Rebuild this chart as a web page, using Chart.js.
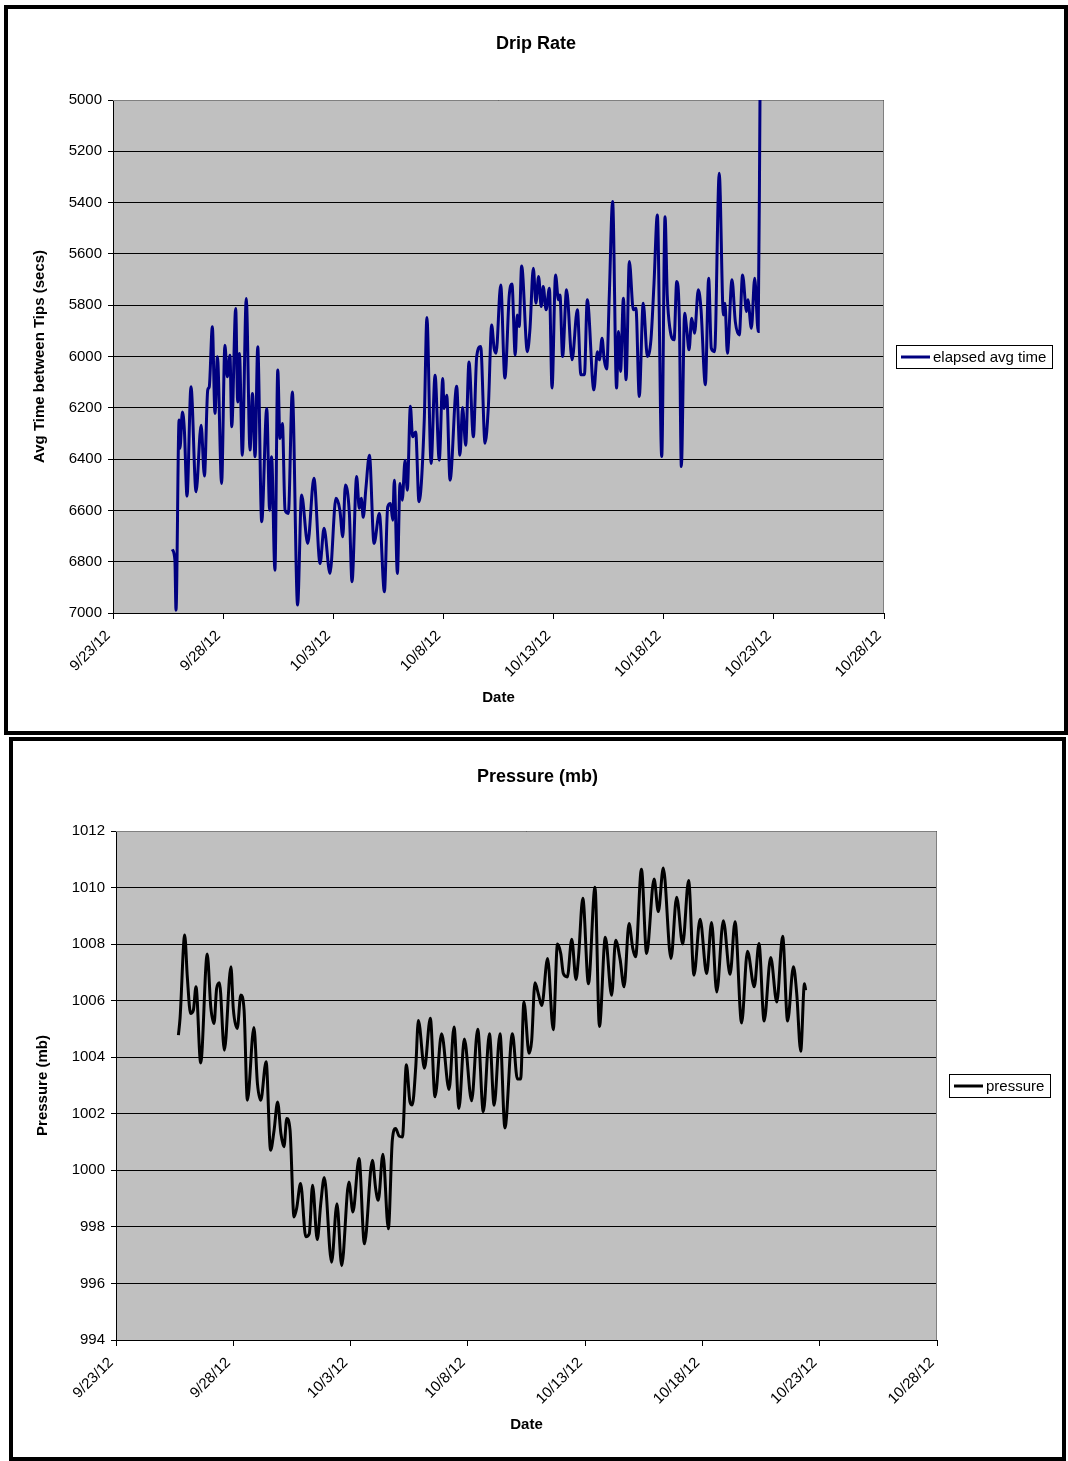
<!DOCTYPE html>
<html>
<head>
<meta charset="utf-8">
<script src="https://cdn.jsdelivr.net/npm/chart.js@4.4.1/dist/chart.umd.min.js"></script>
<style>
  body { margin: 0; background: #fff; width: 1068px; height: 1461px; position: relative; overflow: hidden; }
  .box { position: absolute; border: 4px solid #000; background: #fff; }
  #dripBox { left: 4px; top: 5px; width: 1056px; height: 722px; }
  #pressBox { left: 9px; top: 737px; width: 1049px; height: 716px; }
  canvas { display: block; }
</style>
</head>
<body>
<div class="box" id="dripBox"><canvas id="dripChart" width="1056" height="722"></canvas></div>
<div class="box" id="pressBox"><canvas id="pressChart" width="1049" height="716"></canvas></div>
<script>
// x values are days since 9/23/12
const tickLabels = ['9/23/12', '9/28/12', '10/3/12', '10/8/12', '10/13/12', '10/18/12', '10/23/12', '10/28/12'];

const dripDays = [
  2.69, 2.81, 2.86, 3.00, 3.04, 3.15, 3.24, 3.36, 3.54, 3.77, 4.00, 4.15, 4.30, 4.37, 4.51, 4.63, 4.74, 4.93,
  5.08, 5.19, 5.31, 5.39, 5.57, 5.66, 5.74, 5.87, 6.05, 6.22, 6.33, 6.45, 6.57, 6.75, 6.98, 7.11, 7.20, 7.35,
  7.48, 7.58, 7.69, 7.81, 7.96, 8.14, 8.38, 8.56, 8.84, 9.12, 9.40,
  9.58, 9.85, 10.12, 10.30, 10.43, 10.55, 10.73, 10.85, 11.06, 11.18, 11.27, 11.36, 11.48, 11.64, 11.85, 12.09,
  12.32, 12.47, 12.60, 12.70, 12.77, 12.91, 13.03, 13.13, 13.26, 13.36, 13.50, 13.60, 13.74, 13.89, 14.13, 14.25,
  14.44, 14.62, 14.81, 14.97, 15.03, 15.15, 15.30, 15.60, 15.75, 15.87, 16.01, 16.16, 16.36, 16.51,
  16.69, 16.89, 17.04, 17.19, 17.30, 17.39, 17.60, 17.79, 17.99, 18.11, 18.26, 18.35, 18.44, 18.55, 18.81, 18.93,
  19.08, 19.20, 19.32, 19.44, 19.53, 19.66, 19.81, 19.93, 20.09, 20.22, 20.29, 20.41, 20.59, 20.84, 21.08, 21.24,
  21.40, 21.53, 21.83, 21.99, 22.08, 22.20, 22.30, 22.41, 22.53, 22.68, 22.86, 22.95, 23.04, 23.17, 23.29, 23.44,
  23.62, 23.74, 23.89, 24.07, 24.26, 24.42, 24.56, 24.71, 24.91, 25.06, 25.16, 25.28, 25.47, 25.59, 25.71, 25.80,
  25.95, 26.04, 26.15, 26.27, 26.40, 26.57, 26.69, 26.89, 27.04, 27.16, 27.31, 27.52, 27.71, 27.78, 27.89, 28.10,
  28.25, 28.43, 28.58, 28.76, 28.82, 28.98, 29.13, 29.29, 29.37
];
const dripSecs = [
  6752, 6794, 6989, 6248, 6358, 6216, 6287, 6544, 6118, 6527, 6268, 6466, 6131, 6118, 5884, 6222, 6001, 6495,
  5956, 6079, 5995, 6274, 5813, 6177, 5988, 6385, 5774, 6365, 6144, 6391, 5962, 6644, 6203, 6599, 6391, 6833,
  6053, 6320, 6261, 6599, 6612, 6138, 6969, 6540, 6729, 6475, 6807,
  6670, 6846, 6553, 6599, 6703, 6501, 6612, 6878, 6468, 6592, 6553, 6627, 6514, 6385, 6729, 6612,
  6917, 6586, 6573, 6638, 6482, 6846, 6495, 6560, 6404, 6521, 6194, 6313, 6294, 6566, 6248, 5848,
  6417, 6073, 6404, 6086, 6203, 6151, 6482, 6116, 6385, 6199, 6346, 6021, 6313, 6001,
  5961, 6338, 6195, 5877, 5968, 5987, 5721, 6084, 5760, 5717, 5994, 5838, 5883, 5647, 5981, 5890,
  5656, 5792, 5688, 5805, 5727, 5818, 5734, 6123, 5682, 5779, 5760, 6000, 5740, 6013, 5818, 6071,
  6071, 5779, 6130, 5981, 6013, 5929, 6013, 6049, 5760, 5396, 6123, 5903, 6058, 5773, 6091, 5630,
  5818, 5812, 6156, 5792, 6000, 5935, 5714, 5448, 6390, 5455, 5760, 5890, 5935, 5708, 5857, 6429,
  5831, 5890, 5974, 5851, 5909, 5740, 5812, 6110, 5695, 5968, 5981, 5286, 5838, 5792, 5987, 5701,
  5864, 5916, 5682, 5825, 5779, 5890, 5695, 5903, 5000
];

const pressDays = [
  2.66, 2.73, 2.93, 3.04, 3.18, 3.30, 3.41, 3.61, 3.89, 4.04, 4.18, 4.29, 4.41, 4.62, 4.90, 5.00, 5.17, 5.32,
  5.46, 5.60, 5.88, 6.03, 6.17, 6.40, 6.59, 6.74, 6.89, 7.03, 7.16, 7.28, 7.42, 7.59, 7.70, 7.87, 8.09, 8.24,
  8.38, 8.58, 8.73, 8.88,
  9.19, 9.42, 9.62, 9.93, 10.10, 10.36, 10.59, 10.93, 11.07, 11.18, 11.38, 11.61, 11.78, 11.92, 12.07, 12.21,
  12.38, 12.53, 12.63, 12.78, 12.89, 13.15, 13.40, 13.60, 13.88, 14.20, 14.41, 14.62, 14.85, 15.16, 15.42, 15.66,
  15.92, 16.12, 16.37, 16.58, 16.90, 17.11, 17.25, 17.39, 17.61, 17.72, 17.86, 18.01, 18.15, 18.40, 18.64, 18.82,
  18.96, 19.07, 19.24, 19.43, 19.61, 19.72, 19.90, 20.14, 20.42, 20.61, 20.86, 21.13, 21.30, 21.49, 21.66, 21.87,
  22.03, 22.15, 22.40, 22.62,
  22.94, 23.12, 23.33, 23.66, 23.90, 24.16, 24.41, 24.64, 24.90, 25.18, 25.39, 25.61, 25.89, 26.18, 26.39, 26.67,
  26.92, 27.21, 27.41, 27.63, 27.91, 28.17, 28.42, 28.63, 28.88, 29.02, 29.19, 29.35, 29.40
];
const pressMb = [
  1004.78, 1005.37, 1008.32, 1006.84, 1005.55, 1005.67, 1006.49, 1003.80, 1007.65, 1005.78, 1005.19, 1006.43,
  1006.63, 1004.25, 1007.20, 1005.72, 1005.02, 1006.20, 1005.67, 1002.48, 1005.05, 1003.07, 1002.48, 1003.84,
  1000.71, 1001.42, 1002.42, 1001.30, 1000.83, 1001.83, 1001.42, 998.35, 998.65, 999.53, 997.65, 997.76,
  999.47, 997.55, 998.83, 999.75,
  996.75, 998.82, 996.63, 999.59, 998.53, 1000.42, 997.40, 1000.36, 999.35, 998.94, 1000.57, 997.93,
  1001.07, 1001.48, 1001.21, 1001.18, 1003.73, 1002.43, 1002.31, 1003.67, 1005.30, 1003.61, 1005.38, 1002.60,
  1004.83, 1002.86, 1005.07, 1002.19, 1004.64, 1002.46, 1004.99, 1002.07,
  1004.83, 1002.30, 1004.83, 1001.50, 1004.83, 1003.23, 1003.23, 1005.95, 1004.14, 1004.59, 1006.63, 1006.22,
  1005.83, 1007.49, 1004.97, 1008.00, 1007.67, 1006.96, 1006.84, 1008.17, 1006.75, 1007.57, 1009.62, 1006.60,
  1010.01, 1005.09, 1008.24, 1006.19, 1008.14, 1007.46, 1006.49, 1008.73, 1007.85, 1007.55, 1010.65, 1007.67,
  1010.30, 1009.15, 1010.69, 1007.49, 1009.66, 1008.00, 1010.25, 1006.90, 1008.88, 1006.96, 1008.76, 1006.31,
  1008.83, 1006.93, 1008.79, 1005.21, 1007.75, 1006.49, 1008.02, 1005.28, 1007.53, 1005.95, 1008.28, 1005.28,
  1007.20, 1006.25, 1004.21, 1006.60, 1006.37
];

const FONT = '"Liberation Sans", Arial, Helvetica, sans-serif';
Chart.defaults.font.family = FONT;
Chart.defaults.color = '#000';

// grey plot area, grey frame and a boxed legend like the Excel original
const excelLook = {
  id: 'excelLook',
  beforeDraw(chart) {
    const a = chart.chartArea, ctx = chart.ctx;
    ctx.save();
    ctx.fillStyle = '#c0c0c0';
    ctx.fillRect(a.left, a.top, a.right - a.left, a.bottom - a.top);
    ctx.restore();
  },
  beforeDatasetsDraw(chart) {
    const a = chart.chartArea, ctx = chart.ctx;
    ctx.save();
    ctx.strokeStyle = '#808080';
    ctx.lineWidth = 1;
    ctx.beginPath();
    ctx.moveTo(a.left, a.top + 0.5);
    ctx.lineTo(a.right - 0.5, a.top + 0.5);
    ctx.lineTo(a.right - 0.5, a.bottom);
    ctx.stroke();
    ctx.restore();
  },
  afterDraw(chart) {
    const ctx = chart.ctx, a = chart.chartArea, ds = chart.data.datasets[0];
    ctx.save();
    ctx.font = '15px ' + FONT;
    const tw = ctx.measureText(ds.label).width;
    const h = 23, w = Math.round(5 + 29 + 3 + tw + 6);
    const x0 = Math.round(a.right + 12), y0 = Math.round((a.top + a.bottom) / 2 - h / 2);
    ctx.fillStyle = '#fff';
    ctx.fillRect(x0, y0, w, h);
    ctx.strokeStyle = '#000';
    ctx.lineWidth = 1;
    ctx.strokeRect(x0 + 0.5, y0 + 0.5, w, h);
    ctx.strokeStyle = ds.borderColor;
    ctx.lineWidth = 3;
    ctx.beginPath();
    ctx.moveTo(x0 + 5, y0 + h / 2 + 0.5);
    ctx.lineTo(x0 + 34, y0 + h / 2 + 0.5);
    ctx.stroke();
    ctx.fillStyle = '#000';
    ctx.textBaseline = 'middle';
    ctx.fillText(ds.label, x0 + 37, y0 + h / 2 + 1);
    ctx.restore();
  }
};

function dateTick(value) {
  return tickLabels[Math.round(value / 5)] || '';
}

function makeChart(id, opts) {
  return new Chart(document.getElementById(id), {
    type: 'line',
    data: {
      datasets: [{
        label: opts.label,
        data: opts.days.map((d, i) => ({ x: d, y: opts.values[i] })),
        borderColor: opts.color,
        borderWidth: 3,
        pointRadius: 0,
        fill: false,
        cubicInterpolationMode: 'monotone'
      }]
    },
    options: {
      responsive: false,
      animation: false,
      layout: { padding: 0 },
      plugins: {
        legend: { display: false },
        tooltip: { enabled: false },
        title: {
          display: true,
          text: opts.title,
          color: '#000',
          font: { size: 18, weight: 'bold' },
          padding: { top: opts.titleTop, bottom: opts.titleBottom }
        }
      },
      scales: {
        x: {
          type: 'linear',
          min: 0,
          max: 35,
          ticks: {
            stepSize: 5,
            autoSkip: false,
            minRotation: 45,
            maxRotation: 45,
            padding: 8,
            labelOffset: -5,
            color: '#000',
            font: { size: 15 },
            callback: dateTick
          },
          grid: { drawOnChartArea: false, drawTicks: true, tickLength: 6, color: '#000' },
          border: { color: '#000', width: 1 },
          title: {
            display: true,
            text: 'Date',
            color: '#000',
            font: { size: 15, weight: 'bold' },
            padding: { top: 0, bottom: opts.dateBottom }
          },
          afterFit: s => { s.height = opts.xHeight; }
        },
        y: {
          min: opts.yMin,
          max: opts.yMax,
          reverse: opts.reverse,
          ticks: {
            stepSize: opts.yStep,
            padding: 6,
            color: '#000',
            font: { size: 15 },
            callback: v => String(v)
          },
          grid: { color: '#000', drawTicks: true, tickLength: 5 },
          border: { color: '#000', width: 1 },
          title: {
            display: true,
            text: opts.yTitle,
            color: '#000',
            font: { size: 15, weight: 'bold' },
            padding: { top: opts.yTitleTop, bottom: 0 }
          },
          afterFit: s => { s.width = opts.yWidth; }
        },
        // empty right-hand strip that leaves room for the legend box
        legendRoom: {
          position: 'right',
          min: 0,
          max: 1,
          ticks: { display: false },
          grid: { display: false, drawTicks: false },
          border: { display: false },
          afterFit: s => { s.width = opts.padRight; }
        }
      }
    },
    plugins: [excelLook]
  });
}

makeChart('dripChart', {
  label: 'elapsed avg time',
  days: dripDays,
  values: dripSecs,
  color: '#000080',
  title: 'Drip Rate',
  titleTop: 24,
  titleBottom: 45.4,
  padRight: 180,
  xHeight: 118,
  dateBottom: 24,
  yMin: 5000,
  yMax: 7000,
  yStep: 200,
  reverse: true,
  yTitle: 'Avg Time between Tips (secs)',
  yTitleTop: 23,
  yWidth: 105
});

makeChart('pressChart', {
  label: 'pressure',
  days: pressDays,
  values: pressMb,
  color: '#000000',
  title: 'Pressure (mb)',
  titleTop: 25.2,
  titleBottom: 43.2,
  padRight: 125,
  xHeight: 117,
  dateBottom: 23,
  yMin: 994,
  yMax: 1012,
  yStep: 2,
  reverse: false,
  yTitle: 'Pressure (mb)',
  yTitleTop: 21,
  yWidth: 103
});
</script>
</body>
</html>
